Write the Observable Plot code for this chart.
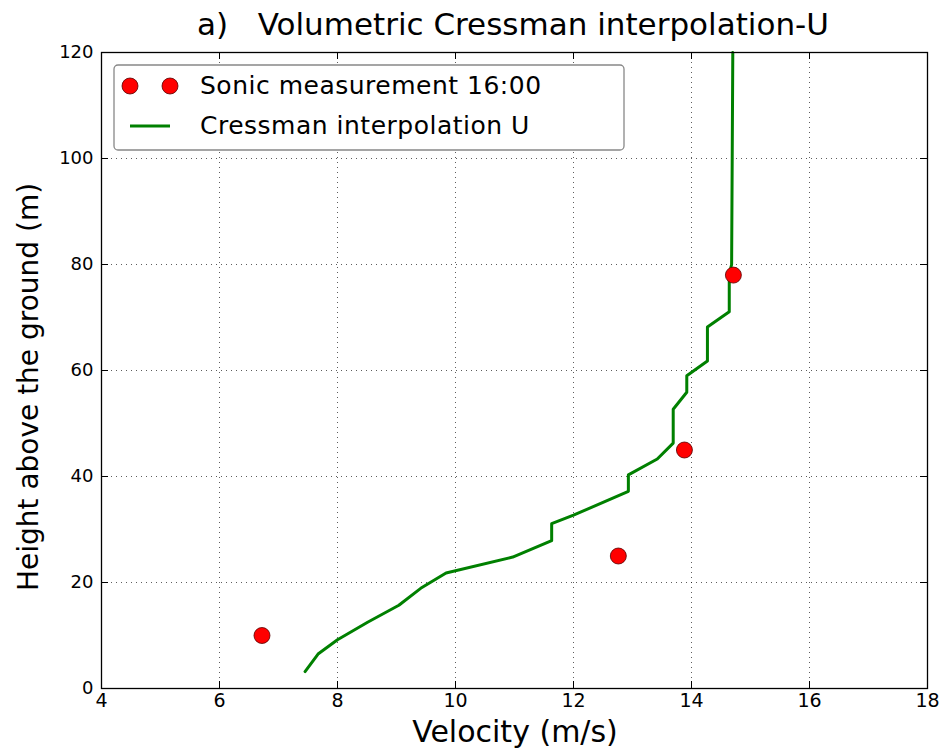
<!DOCTYPE html>
<html>
<head>
<meta charset="utf-8">
<script src="https://cdn.jsdelivr.net/npm/d3@7"></script>
<script src="https://cdn.jsdelivr.net/npm/@observablehq/plot@0.6"></script>
<style>
  html, body { margin: 0; padding: 0; background: #fff; }
  #chart { position: relative; width: 942px; height: 751px; }
  svg { font-family: "DejaVu Sans", sans-serif; }
</style>
</head>
<body>
<div id="chart"></div>
<script>
// Cressman interpolation U profile (velocity m/s, height m)
const lineU = [7.45, 7.67, 8.0, 8.51, 9.04, 9.41, 9.84, 10.97, 11.63, 11.63, 12.0, 12.93, 12.93, 13.42, 13.69, 13.69, 13.92, 13.92, 14.27, 14.27, 14.64, 14.64, 14.68, 14.70];
const lineH = [3.2, 6.5, 9.2, 12.5, 15.7, 18.9, 21.8, 24.8, 27.9, 31.1, 32.7, 37.2, 40.3, 43.3, 46.3, 52.7, 55.9, 59.0, 61.8, 68.2, 71.1, 78.2, 80.0, 120];
// Sonic measurements 16:00
const sonicU = [6.72, 12.76, 13.88, 14.71];
const sonicH = [10, 25, 45, 78];
// ticks
const xTicks = [4, 6, 8, 10, 12, 14, 16, 18];
const yTicks = [0, 20, 40, 60, 80, 100, 120];
const titleText = "a)   Volumetric Cressman interpolation-U";
const xLabel = "Velocity (m/s)";
const yLabel = "Height above the ground (m)";
const legendLabels = ["Sonic measurement 16:00", "Cressman interpolation U"];

const lineData = lineU.map((u, i) => ({u, h: lineH[i]}));
const sonicData = sonicU.map((u, i) => ({u, h: sonicH[i]}));

const W = 942, H = 751;
const mL = 101, mR = 15, mT = 52, mB = 63;
const innerH = H - mT - mB, innerW = W - mL - mR;
const tickLen = 7;

const plot = Plot.plot({
  width: W, height: H,
  marginLeft: mL, marginRight: mR, marginTop: mT, marginBottom: mB,
  style: {fontFamily: "DejaVu Sans, sans-serif", background: "white", overflow: "visible"},
  x: {domain: [4, 18], label: null},
  y: {domain: [0, 120], label: null},
  marks: [
    Plot.gridX(xTicks, {stroke: "#000", strokeOpacity: 0.8, strokeWidth: 0.8, strokeDasharray: "1,4"}),
    Plot.gridY(yTicks, {stroke: "#000", strokeOpacity: 0.8, strokeWidth: 0.8, strokeDasharray: "1,4"}),
    // inward ticks
    Plot.tickX(xTicks, {x: d => d, stroke: "#000", insetTop: innerH - tickLen}),
    Plot.tickX(xTicks, {x: d => d, stroke: "#000", insetBottom: innerH - tickLen}),
    Plot.tickY(yTicks, {y: d => d, stroke: "#000", insetRight: innerW - tickLen}),
    Plot.tickY(yTicks, {y: d => d, stroke: "#000", insetLeft: innerW - tickLen}),
    Plot.axisX(xTicks, {tickSize: 0, tickPadding: 5, fontSize: 19, fill: "#000", label: null}),
    Plot.axisY(yTicks, {tickSize: 0, tickPadding: 8, fontSize: 18, fill: "#000", label: null}),
    Plot.line(lineData, {x: "u", y: "h", stroke: "#008000", strokeWidth: 3, curve: "linear"}),
    Plot.dot(sonicData, {x: "u", y: "h", r: 8, fill: "#ff0000", stroke: "#550000", strokeWidth: 0.8}),
    Plot.frame({stroke: "#000", strokeWidth: 1.3})
  ]
});

const svg = d3.select(plot);
// title
svg.append("text").attr("x", 513).attr("y", 35).attr("text-anchor", "middle")
  .attr("font-size", 31).attr("fill", "#000").text(titleText);
// axis labels
svg.append("text").attr("x", 515).attr("y", 742).attr("text-anchor", "middle")
  .attr("font-size", 30).attr("fill", "#000").text(xLabel);
svg.append("text").attr("transform", "translate(38,387) rotate(-90)").attr("text-anchor", "middle")
  .attr("font-size", 28).attr("fill", "#000").text(yLabel);
// legend
const lg = svg.append("g");
lg.append("rect").attr("x", 114).attr("y", 65).attr("width", 510).attr("height", 85)
  .attr("rx", 4).attr("fill", "#fff").attr("stroke", "#888").attr("stroke-width", 1.3);
[130, 170].forEach(cx => lg.append("circle").attr("cx", cx).attr("cy", 86).attr("r", 8)
  .attr("fill", "#ff0000").attr("stroke", "#550000").attr("stroke-width", 0.8));
lg.append("line").attr("x1", 130).attr("x2", 170).attr("y1", 126).attr("y2", 126)
  .attr("stroke", "#008000").attr("stroke-width", 3);
lg.append("text").attr("x", 200).attr("y", 94).attr("text-anchor", "start").attr("font-size", 25)
  .attr("letter-spacing", "0.5px").attr("fill", "#000").text(legendLabels[0]);
lg.append("text").attr("x", 200).attr("y", 134).attr("text-anchor", "start").attr("font-size", 25)
  .attr("letter-spacing", "0.5px").attr("fill", "#000").text(legendLabels[1]);

document.getElementById("chart").appendChild(plot);
</script>
</body>
</html>
